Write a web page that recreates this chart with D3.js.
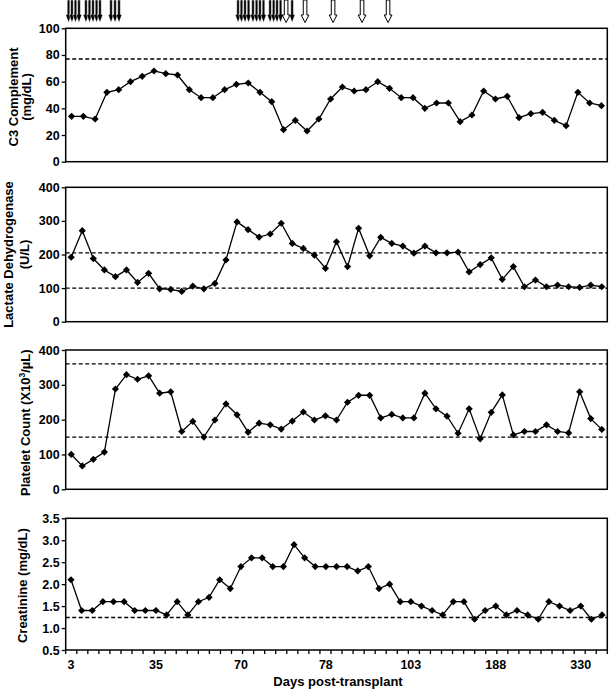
<!DOCTYPE html>
<html>
<head>
<meta charset="utf-8">
<script src="https://cdn.jsdelivr.net/npm/d3@7/dist/d3.min.js"></script>
<style>
  html, body { margin: 0; padding: 0; background: #fff; }
  svg { display: block; }
  text { font-family: "Liberation Sans", Arial, Helvetica, sans-serif; font-weight: bold; fill: #000; }
</style>
</head>
<body>
<svg id="chart" width="609" height="690"></svg>
<script>
// ---------------- DATA ----------------
const c3Values = [34,34,32,52,54,60,64,68,66,65,54,48,48,54,58,59,52,45,24,31,23,32,
  47,56,53,54,60,55,48,48,40,44,44,30,35,53,47,49,33,36,37,31,27,52,44,42];
const ldhValues = [192,271,188,154,134,154,117,144,98,96,90,106,98,114,184,297,274,252,261,293,233,
  218,198,159,238,164,278,196,251,233,225,204,225,205,205,207,148,170,190,126,164,104,124,104,109,104,102,109,104];
const plateletValues = [100,67,86,107,288,329,316,326,276,280,166,195,150,199,245,214,164,190,185,173,196,
  222,199,211,199,250,270,270,205,215,205,205,276,231,210,161,231,145,221,271,156,166,166,185,166,162,280,203,172];
const creatinineValues = [2.1,1.4,1.4,1.6,1.6,1.6,1.4,1.4,1.4,1.3,1.6,1.3,1.6,1.7,2.1,1.9,2.4,2.6,2.6,2.4,2.4,2.9,
  2.6,2.4,2.4,2.4,2.4,2.3,2.4,1.9,2.0,1.6,1.6,1.5,1.4,1.3,1.6,1.6,1.2,1.4,1.5,1.3,1.4,1.3,1.2,1.6,1.5,1.4,1.5,1.2,1.3];

const c3Ticks = [0,20,40,60,80,100];
const ldhTicks = [0,100,200,300,400];
const plateletTicks = [0,100,200,300,400];
const creatinineTicks = [0.5,1.0,1.5,2.0,2.5,3.0,3.5];

const c3Ref = [77];
const ldhRef = [205,100];
const plateletRef = [360,150];
const creatinineRef = [1.24];

const dayLabels = ["3","35","70","78","103","188","330"];
const dayLabelIndex = [0,8,16,24,32,40,48];   // creatinine sample index of each label
const axisTickCategories = 49;

// treatment arrows, in C3 sample-index units
const blackArrows = [-0.26,0.03,0.33,0.63, 1.22,1.52,1.82,2.12,2.41, 3.35,3.69,4.03,
  14.14,14.43,14.73,15.03, 15.41,15.71,16.0,16.3, 16.86,17.16,17.45,17.75, 18.73];
const whiteArrows = [18.22,19.83,22.21,24.67,26.88];

// ---------------- LAYOUT ----------------
const svg = d3.select("#chart");
const X0 = 65.7, X1 = 607.3;

const panels = [
  { values: c3Values, ticks: c3Ticks, ref: c3Ref, domain: [0,100], top: 28.3, bottom: 161.7,
    title: ["C3 Complement","(mg/dL)"], fmt: d3.format("d") },
  { values: ldhValues, ticks: ldhTicks, ref: ldhRef, domain: [0,400], top: 187.3, bottom: 321.7,
    title: ["Lactate Dehydrogenase","(U/L)"], fmt: d3.format("d") },
  { values: plateletValues, ticks: plateletTicks, ref: plateletRef, domain: [0,400], top: 350, bottom: 489.3,
    title: ["PLT"], fmt: d3.format("d") },
  { values: creatinineValues, ticks: creatinineTicks, ref: creatinineRef, domain: [0.5,3.5], top: 518.3, bottom: 650,
    title: ["Creatinine (mg/dL)"], fmt: d3.format(".1f") }
];

const marker = d3.symbol().type(d3.symbolSquare).size(26);

panels.forEach((p, pi) => {
  const n = p.values.length;
  const x = d3.scaleLinear().domain([-0.5, n - 0.5]).range([X0, X1]);
  const y = d3.scaleLinear().domain(p.domain).range([p.bottom, p.top]);
  p.x = x; p.y = y;
  const g = svg.append("g");

  // reference dashed lines
  g.selectAll("line.ref").data(p.ref).join("line")
    .attr("x1", X0).attr("x2", X1)
    .attr("y1", d => y(d)).attr("y2", d => y(d))
    .attr("stroke", "#000").attr("stroke-width", 1.3)
    .attr("stroke-dasharray", "4,2.5");

  // y axis
  const ax = g.append("g").attr("transform", `translate(${X0},0)`)
    .call(d3.axisLeft(y).tickValues(p.ticks).tickSize(4).tickPadding(2).tickFormat(p.fmt));
  ax.select(".domain").remove();
  ax.selectAll(".tick line").attr("stroke", "#000").attr("stroke-width", 1.3);
  ax.selectAll(".tick text").attr("font-size", 12.5).attr("font-family", null).attr("fill", "#000");

  // frame
  g.append("rect").attr("x", X0).attr("y", p.top)
    .attr("width", X1 - X0).attr("height", p.bottom - p.top)
    .attr("fill", "none").attr("stroke", "#000").attr("stroke-width", 1.5);

  // line + markers
  const line = d3.line().x((d, i) => x(i)).y(d => y(d));
  g.append("path").datum(p.values).attr("d", line)
    .attr("fill", "none").attr("stroke", "#000").attr("stroke-width", 1.3);
  g.selectAll("path.pt").data(p.values).join("path")
    .attr("class", "pt")
    .attr("d", marker)
    .attr("transform", (d, i) => `translate(${x(i)},${y(d)}) rotate(45)`)
    .attr("fill", "#000");

  // y title
  const cy = (p.top + p.bottom) / 2;
  if (pi === 0) {
    [["C3 Complement", 13], ["(mg/dL)", 26]].forEach(([t, cx]) => {
      svg.append("text").attr("transform", `translate(${cx + 4.5},${cy + 2}) rotate(-90)`)
        .attr("text-anchor", "middle").attr("font-size", 13).text(t);
    });
  } else if (pi === 1) {
    [["Lactate Dehydrogenase", 8.5], ["(U/L)", 24]].forEach(([t, cx]) => {
      svg.append("text").attr("transform", `translate(${cx + 4.5},${cy}) rotate(-90)`)
        .attr("text-anchor", "middle").attr("font-size", 13).text(t);
    });
  } else if (pi === 2) {
    const t = svg.append("text").attr("transform", `translate(${25 + 4.5},${cy + 3}) rotate(-90)`)
      .attr("text-anchor", "middle").attr("font-size", 13);
    t.append("tspan").text("Platelet Count (X10");
    t.append("tspan").attr("font-size", 8.5).attr("dy", -5).text("3");
    t.append("tspan").attr("dy", 5).text("/µL)");
  } else {
    svg.append("text").attr("transform", `translate(${22.7 + 4.5},${cy + 1.5}) rotate(-90)`)
      .attr("text-anchor", "middle").attr("font-size", 13).text("Creatinine (mg/dL)");
  }
});

// bottom axis (creatinine panel)
const last = panels[3];
const tickScale = d3.scaleLinear().domain([0, axisTickCategories]).range([X0, X1]);
svg.append("g").selectAll("line").data(d3.range(axisTickCategories + 1)).join("line")
  .attr("x1", d => tickScale(d)).attr("x2", d => tickScale(d))
  .attr("y1", last.bottom).attr("y2", last.bottom + 4)
  .attr("stroke", "#000").attr("stroke-width", 1.3);
svg.append("g").selectAll("text").data(dayLabels).join("text")
  .attr("x", (d, i) => last.x(dayLabelIndex[i]))
  .attr("y", 669)
  .attr("text-anchor", "middle").attr("font-size", 12.5)
  .text(d => d);
svg.append("text").attr("x", 338).attr("y", 686).attr("text-anchor", "middle")
  .attr("font-size", 13).text("Days post-transplant");

// arrows at top
const ax3 = panels[0].x;
const c3x = i => ax3(i);
svg.append("g").selectAll("path").data(blackArrows).join("path")
  .attr("d", d => {
    const cx = c3x(d);
    return `M${cx-1.3},0 L${cx+1.3},0 L${cx+1.3},14.5 L${cx+2.9},14.5 L${cx},22.5 L${cx-2.9},14.5 L${cx-1.3},14.5 Z`;
  })
  .attr("fill", "#000").attr("stroke", "#fff").attr("stroke-width", 0.5);
svg.append("g").selectAll("path").data(whiteArrows).join("path")
  .attr("d", d => {
    const cx = c3x(d);
    return `M${cx-1.8},0 L${cx+1.8},0 L${cx+1.8},15 L${cx+3.9},15 L${cx},22.5 L${cx-3.9},15 L${cx-1.8},15 Z`;
  })
  .attr("fill", "#fff").attr("stroke", "#000").attr("stroke-width", 1);
</script>
</body>
</html>
